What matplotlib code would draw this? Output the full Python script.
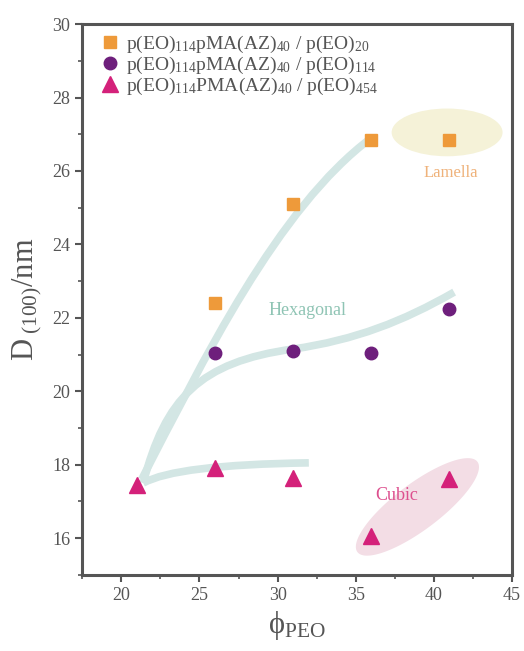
import numpy as np
import matplotlib.pyplot as plt
from matplotlib.path import Path
from matplotlib.patches import PathPatch, Ellipse, Polygon

plt.rcParams['font.family'] = ['Liberation Serif', 'DejaVu Serif']
plt.rcParams['mathtext.fontset'] = 'custom'
plt.rcParams['mathtext.rm'] = 'Liberation Serif'
plt.rcParams['mathtext.it'] = 'Liberation Serif:italic'

# data
phi_sq = [26, 31, 36, 41]
d_sq = [22.4, 25.1, 26.85, 26.85]
phi_ci = [26, 31, 36, 41]
d_ci = [21.05, 21.1, 21.05, 22.25]
phi_tr = [21, 26, 31, 36, 41]
d_tr = [17.45, 17.9, 17.65, 16.05, 17.6]

labels = [
    r'p(EO)$_{114}$pMA(AZ)$_{40}$ / p(EO)$_{20}$',
    r'p(EO)$_{114}$pMA(AZ)$_{40}$ / p(EO)$_{114}$',
    r'p(EO)$_{114}$PMA(AZ)$_{40}$ / p(EO)$_{454}$',
]

# hand-drawn guide curves (bezier control points)
guide_lam = [(21.3, 17.6), (25.2, 20.8), (30.0, 25.0), (36.0, 26.9)]
guide_hex = [(21.4, 17.5), (22.8, 19.8), (25.0, 20.8), (31.0, 21.15),
             (35.0, 21.4), (38.0, 21.9), (41.3, 22.7)]
guide_cub = [(21.4, 17.5), (23.5, 18.0), (32.0, 18.05)]

c_sq = '#EE9A3A'
c_ci = '#6E1F7C'
c_tr = '#D4217A'
c_guide = '#D3E6E4'
c_axis = '#555555'

fig = plt.figure(figsize=(5.24, 6.51), dpi=100)
ax = fig.add_axes([0.157, 0.117, 0.82, 0.846])
ax.set_xlim(17.5, 45)
ax.set_ylim(15, 30)

# phase regions
ax.add_patch(Ellipse((40.85, 27.05), 7.1, 1.3, facecolor='#F5F2D8',
                     edgecolor='none', zorder=1))
# rotated ellipse for the cubic region, built in pixel-like units
px_x = 15.6
px_y = 36.7
t = np.linspace(0, 2 * np.pi, 200)
ang = np.deg2rad(37)
ex = 75 * np.cos(t) * np.cos(ang) - 23 * np.sin(t) * np.sin(ang)
ey = 75 * np.cos(t) * np.sin(ang) + 23 * np.sin(t) * np.cos(ang)
ax.add_patch(Polygon(np.column_stack([38.95 + ex / px_x, 16.85 + ey / px_y]),
                     closed=True, facecolor='#F3DDE5', edgecolor='none', zorder=1))

# guide curves
def bezier_patch(pts, code):
    codes = [Path.MOVETO] + [code] * (len(pts) - 1)
    return PathPatch(Path(pts, codes), facecolor='none', edgecolor=c_guide,
                     lw=5.5, capstyle='butt', zorder=2)

ax.add_patch(bezier_patch(guide_lam, Path.CURVE4))
ax.add_patch(bezier_patch(guide_hex, Path.CURVE4))
ax.add_patch(bezier_patch(guide_cub, Path.CURVE3))

ax.plot(phi_sq, d_sq, 's', color=c_sq, ms=8, ls='none', label=labels[0], zorder=3)
ax.plot(phi_ci, d_ci, 'o', color=c_ci, ms=9, ls='none', label=labels[1], zorder=3)
ax.plot(phi_tr, d_tr, '^', color=c_tr, ms=11, ls='none', label=labels[2], zorder=3)

ax.text(41.1, 25.95, 'Lamella', color='#EFB27A', fontsize=12, ha='center', va='center')
ax.text(31.9, 22.2, 'Hexagonal', color='#8FC4B4', fontsize=13, ha='center', va='center')
ax.text(37.6, 17.15, 'Cubic', color='#DD4F8E', fontsize=13, ha='center', va='center')

leg = ax.legend(loc='upper left', frameon=False, fontsize=14, handletextpad=0.3,
                borderaxespad=0.1, labelspacing=0.0, handlelength=1.0,
                bbox_to_anchor=(0.02, 1.0))
for txt in leg.get_texts():
    txt.set_color(c_axis)

ax.set_xticks([20, 25, 30, 35, 40, 45])
ax.set_xticks(np.arange(17.5, 45.1, 2.5), minor=True)
ax.set_yticks([16, 18, 20, 22, 24, 26, 28, 30])
ax.set_yticks(np.arange(15, 30.1, 1), minor=True)
ax.tick_params(axis='both', which='major', direction='out', length=5, width=1.5,
               color=c_axis, labelcolor=c_axis, labelsize=13)
ax.tick_params(axis='both', which='minor', direction='out', length=3, width=1.2,
               color=c_axis)
for sp in ax.spines.values():
    sp.set_linewidth(2.2)
    sp.set_color(c_axis)

ax.set_ylabel(r'D$_{\ (100)}$/nm', fontsize=22, color=c_axis, labelpad=6)
ax.set_xlabel(r'$\mathrm{\phi}_{\mathrm{PEO}}$', fontsize=22, color=c_axis, labelpad=4)

fig.savefig('out.png', dpi=100)
